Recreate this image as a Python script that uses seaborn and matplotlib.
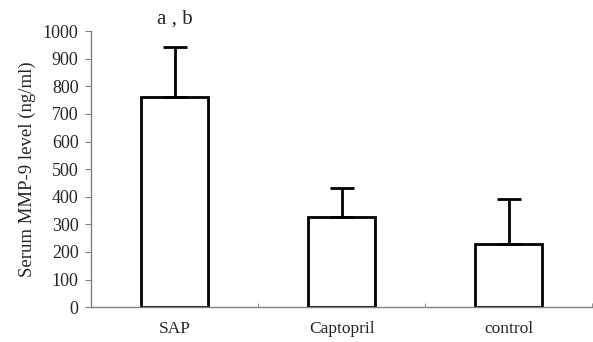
import matplotlib
matplotlib.use("Agg")
import matplotlib.pyplot as plt
import pandas as pd
import seaborn as sns

# values
groups = ["SAP", "Captopril", "control"]
mean_level = [762, 327, 228]
sd_level = [181, 105, 163]
y_ticks = list(range(0, 1001, 100))

df = pd.DataFrame({"group": groups, "level": mean_level})

sns.set_style("white")
plt.rcParams["font.family"] = ["Liberation Serif", "DejaVu Serif"]

fig = plt.figure(figsize=(5.93, 3.42), dpi=100)
ax = fig.add_axes([0.1535, 0.102, 0.845, 0.807])

sns.barplot(
    data=df, x="group", y="level", order=groups,
    color="white", edgecolor="black", linewidth=2, width=0.4,
    errorbar=None, ax=ax,
)
# only the upper error bar is drawn
ax.errorbar(
    groups, mean_level, yerr=[[0] * len(sd_level), sd_level],
    fmt="none", ecolor="black", elinewidth=2, capsize=8.5, capthick=2,
)

ax.set_xlim(-0.5, 2.5)
ax.set_ylim(0, 1000)
ax.set_yticks(y_ticks)
ax.set_xlabel("")
ax.set_ylabel("Serum MMP-9 level (ng/ml)", fontsize=13.5, labelpad=5)
ax.tick_params(axis="y", labelsize=13, length=4, color="#808080",
               direction="out", left=True, pad=5)
ax.tick_params(axis="x", labelsize=12.5, length=0, pad=10)
ax.set_xticks([0.5, 1.5, 2.5], minor=True)
ax.tick_params(axis="x", which="minor", length=3, direction="in",
               color="#808080", bottom=True)

for side in ["top", "right"]:
    ax.spines[side].set_visible(False)
for side in ["left", "bottom"]:
    ax.spines[side].set_color("#808080")
    ax.spines[side].set_linewidth(1)

ax.text(0, 1010, "a , b", ha="center", va="bottom", fontsize=15, clip_on=False)

fig.savefig("out.png", dpi=100)
